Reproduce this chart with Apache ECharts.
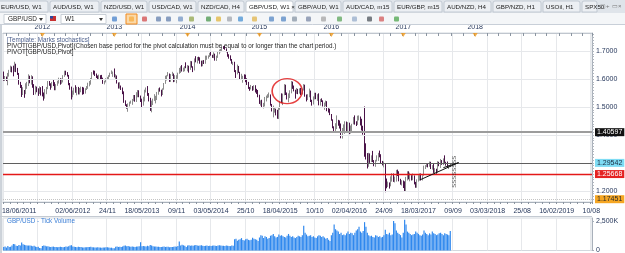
<!DOCTYPE html>
<html><head><meta charset="utf-8">
<script src="https://cdn.jsdelivr.net/npm/echarts@6/dist/echarts.min.js"></script>
<style>html,body{margin:0;padding:0;background:#fff;overflow:hidden}#c{width:625px;height:253px}</style>
</head><body><div id="c"></div>
<script>
// ---------- DATA ----------
const startDate = [2011, 5, 18];          // first weekly bar 18/06/2011
const totalWeeks = 426;                    // axis extends to Aug 2019
const bottomTickLabels = ['18/06/2011','','02/06/2012','24/11','18/05/2013','09/11','03/05/2014','25/10','18/04/2015','10/10','02/04/2016','24/09','18/03/2017','09/09','03/03/2018','25/08','16/02/2019','10/08'];
const yearLabels = ['2012','2013','2014','2015','2016','2017','2018'];
const priceTicks = [1.2, 1.3, 1.4, 1.5, 1.6, 1.7];
const volumeTicks = [0, 2500000];
const tabLabels = ['EUR/USD, W1','AUD/USD, W1','NZD/USD, W1','USD/CAD, W1','NZD/CAD, H4','GBP/USD, W1','GBP/AUD, W1','AUD/CAD, m15','EUR/GBP, m15','AUD/NZD, H4','GBP/NZD, H1','USOil, H1','SPX50'];
const overlayTexts = ['[Template: Marks stochastics]','PIVOT[GBP/USD,Pivot](Chosen base period for the pivot calculation must be equal to or longer than the chart period.)','PIVOT[GBP/USD,Pivot]'];

// weekly candles [open, high, low, close]
const ohlc2011 = [[1.621,1.627,1.594,1.601],[1.601,1.611,1.593,1.605],[1.605,1.609,1.593,1.598],[1.598,1.622,1.578,1.619],[1.619,1.633,1.609,1.631],[1.631,1.648,1.625,1.643],[1.643,1.645,1.624,1.635],[1.635,1.648,1.610,1.631],[1.631,1.662,1.626,1.648],[1.648,1.655,1.625,1.633],[1.633,1.640,1.615,1.621],[1.621,1.622,1.580,1.586],[1.586,1.590,1.568,1.577],[1.577,1.579,1.536,1.549],[1.549,1.571,1.543,1.558],[1.558,1.561,1.533,1.550],[1.550,1.585,1.546,1.579],[1.579,1.590,1.565,1.589],[1.589,1.617,1.575,1.607],[1.607,1.612,1.585,1.601],[1.601,1.614,1.580,1.608],[1.608,1.610,1.569,1.576],[1.576,1.582,1.543,1.548],[1.548,1.576,1.545,1.568],[1.568,1.573,1.553,1.565],[1.565,1.567,1.540,1.551],[1.551,1.574,1.547,1.568],[1.568,1.571,1.541,1.553]];
const ohlc2012 = [[1.553,1.575,1.538,1.543],[1.543,1.552,1.523,1.534],[1.534,1.564,1.530,1.560],[1.560,1.572,1.546,1.570],[1.570,1.593,1.564,1.586],[1.586,1.593,1.576,1.580],[1.580,1.585,1.562,1.578],[1.578,1.590,1.569,1.581],[1.581,1.600,1.575,1.580],[1.580,1.589,1.560,1.567],[1.567,1.582,1.560,1.578],[1.578,1.594,1.576,1.590],[1.590,1.605,1.584,1.600],[1.600,1.603,1.580,1.589],[1.589,1.602,1.583,1.592],[1.592,1.614,1.588,1.612],[1.612,1.630,1.608,1.628],[1.628,1.630,1.614,1.619],[1.619,1.625,1.609,1.612],[1.612,1.615,1.578,1.581],[1.581,1.586,1.562,1.570],[1.570,1.573,1.527,1.537],[1.537,1.559,1.535,1.556],[1.556,1.569,1.544,1.567],[1.567,1.578,1.551,1.561],[1.561,1.572,1.542,1.571],[1.571,1.572,1.545,1.550],[1.550,1.568,1.545,1.565],[1.565,1.573,1.553,1.570],[1.570,1.572,1.544,1.569],[1.569,1.570,1.546,1.560],[1.560,1.567,1.548,1.563],[1.563,1.575,1.561,1.572],[1.572,1.587,1.565,1.585],[1.585,1.593,1.574,1.590],[1.590,1.604,1.580,1.602],[1.602,1.625,1.598,1.623],[1.623,1.631,1.616,1.622],[1.622,1.630,1.611,1.615],[1.615,1.620,1.604,1.611],[1.611,1.613,1.597,1.605],[1.605,1.616,1.598,1.613],[1.613,1.614,1.598,1.604],[1.604,1.615,1.599,1.599],[1.599,1.605,1.583,1.589],[1.589,1.594,1.581,1.589],[1.589,1.603,1.588,1.602],[1.602,1.608,1.597,1.606],[1.606,1.614,1.600,1.610],[1.610,1.623,1.608,1.622],[1.622,1.631,1.618,1.625],[1.625,1.627,1.608,1.626],[1.626,1.638,1.606,1.608]];
const ohlc2013 = [[1.608,1.617,1.599,1.611],[1.611,1.613,1.584,1.587],[1.587,1.588,1.566,1.568],[1.568,1.589,1.566,1.576],[1.576,1.577,1.561,1.563],[1.563,1.570,1.546,1.549],[1.549,1.556,1.515,1.520],[1.520,1.524,1.504,1.505],[1.505,1.510,1.494,1.498],[1.498,1.513,1.483,1.512],[1.512,1.519,1.502,1.518],[1.518,1.523,1.512,1.520],[1.520,1.529,1.508,1.529],[1.529,1.543,1.521,1.535],[1.535,1.543,1.519,1.529],[1.529,1.553,1.518,1.553],[1.553,1.561,1.535,1.555],[1.555,1.560,1.535,1.535],[1.535,1.541,1.518,1.520],[1.520,1.530,1.500,1.512],[1.512,1.537,1.505,1.520],[1.520,1.562,1.520,1.555],[1.555,1.570,1.552,1.568],[1.568,1.575,1.540,1.549],[1.549,1.550,1.520,1.521],[1.521,1.533,1.486,1.487],[1.487,1.523,1.481,1.510],[1.510,1.530,1.507,1.526],[1.526,1.546,1.522,1.536],[1.536,1.540,1.513,1.536],[1.536,1.554,1.525,1.551],[1.551,1.567,1.544,1.563],[1.563,1.570,1.555,1.556],[1.556,1.562,1.538,1.549],[1.549,1.567,1.543,1.565],[1.565,1.586,1.562,1.585],[1.585,1.612,1.583,1.603],[1.603,1.614,1.595,1.612],[1.612,1.625,1.610,1.618],[1.618,1.620,1.590,1.596],[1.596,1.618,1.590,1.616],[1.616,1.626,1.611,1.619],[1.619,1.620,1.589,1.593],[1.593,1.614,1.590,1.602],[1.602,1.614,1.585,1.613],[1.613,1.623,1.601,1.622],[1.622,1.640,1.619,1.637],[1.637,1.646,1.622,1.640],[1.640,1.650,1.627,1.631],[1.631,1.641,1.626,1.632],[1.632,1.646,1.628,1.645],[1.645,1.660,1.639,1.644]];
const ohlc2014 = [[1.644,1.650,1.628,1.646],[1.646,1.648,1.623,1.636],[1.636,1.665,1.633,1.649],[1.649,1.664,1.641,1.643],[1.643,1.646,1.625,1.634],[1.634,1.674,1.631,1.674],[1.674,1.682,1.660,1.666],[1.666,1.679,1.656,1.675],[1.675,1.680,1.666,1.674],[1.674,1.678,1.655,1.663],[1.663,1.666,1.645,1.648],[1.648,1.667,1.646,1.664],[1.664,1.668,1.654,1.659],[1.659,1.684,1.655,1.675],[1.675,1.684,1.669,1.678],[1.678,1.685,1.673,1.681],[1.681,1.694,1.679,1.689],[1.689,1.700,1.684,1.686],[1.686,1.687,1.676,1.680],[1.680,1.696,1.675,1.683],[1.683,1.691,1.666,1.674],[1.674,1.684,1.665,1.680],[1.680,1.700,1.676,1.697],[1.697,1.706,1.689,1.701],[1.701,1.708,1.696,1.704],[1.704,1.718,1.701,1.715],[1.715,1.718,1.708,1.713],[1.713,1.719,1.705,1.708],[1.708,1.710,1.696,1.698],[1.698,1.700,1.680,1.682],[1.682,1.689,1.673,1.680],[1.680,1.685,1.666,1.668],[1.668,1.672,1.655,1.656],[1.656,1.662,1.650,1.660],[1.660,1.662,1.625,1.631],[1.631,1.632,1.604,1.624],[1.624,1.652,1.617,1.630],[1.630,1.647,1.622,1.623],[1.623,1.626,1.598,1.602],[1.602,1.619,1.600,1.609],[1.609,1.612,1.587,1.612],[1.612,1.617,1.597,1.609],[1.609,1.616,1.589,1.596],[1.596,1.603,1.579,1.583],[1.583,1.590,1.565,1.568],[1.568,1.572,1.558,1.567],[1.567,1.579,1.563,1.571],[1.571,1.575,1.558,1.564],[1.564,1.578,1.560,1.571],[1.571,1.578,1.552,1.562],[1.562,1.565,1.547,1.554],[1.554,1.561,1.535,1.540]];
const ohlc2015 = [[1.540,1.544,1.511,1.514],[1.514,1.524,1.505,1.519],[1.519,1.526,1.499,1.502],[1.502,1.515,1.495,1.505],[1.505,1.536,1.502,1.524],[1.524,1.541,1.520,1.538],[1.538,1.546,1.532,1.538],[1.538,1.552,1.534,1.543],[1.543,1.545,1.505,1.506],[1.506,1.511,1.484,1.485],[1.485,1.505,1.463,1.486],[1.486,1.500,1.480,1.489],[1.489,1.494,1.470,1.487],[1.487,1.490,1.458,1.465],[1.465,1.500,1.457,1.497],[1.497,1.521,1.490,1.518],[1.518,1.549,1.514,1.514],[1.514,1.548,1.507,1.546],[1.546,1.582,1.542,1.570],[1.570,1.580,1.543,1.548],[1.548,1.552,1.527,1.529],[1.529,1.549,1.517,1.534],[1.534,1.560,1.532,1.553],[1.553,1.593,1.549,1.588],[1.588,1.591,1.565,1.575],[1.575,1.577,1.556,1.560],[1.560,1.562,1.530,1.551],[1.551,1.568,1.547,1.554],[1.554,1.565,1.546,1.551],[1.551,1.567,1.548,1.560],[1.560,1.568,1.543,1.547],[1.547,1.566,1.545,1.564],[1.564,1.582,1.559,1.570],[1.570,1.580,1.537,1.543],[1.543,1.545,1.520,1.526],[1.526,1.546,1.525,1.544],[1.544,1.566,1.535,1.554],[1.554,1.559,1.518,1.521],[1.521,1.526,1.505,1.515],[1.515,1.538,1.509,1.532],[1.532,1.551,1.527,1.536],[1.536,1.551,1.528,1.531],[1.531,1.546,1.522,1.543],[1.543,1.549,1.506,1.507],[1.507,1.529,1.505,1.522],[1.522,1.531,1.518,1.519],[1.519,1.524,1.502,1.505],[1.505,1.516,1.490,1.508],[1.508,1.523,1.503,1.519],[1.519,1.521,1.485,1.490],[1.490,1.496,1.480,1.487],[1.487,1.494,1.471,1.474]];
const ohlc2016 = [[1.474,1.475,1.451,1.453],[1.453,1.456,1.424,1.425],[1.425,1.431,1.408,1.423],[1.423,1.442,1.412,1.425],[1.425,1.470,1.421,1.452],[1.452,1.454,1.433,1.450],[1.450,1.452,1.423,1.440],[1.440,1.441,1.388,1.390],[1.390,1.425,1.387,1.423],[1.423,1.438,1.414,1.437],[1.437,1.449,1.404,1.447],[1.447,1.448,1.408,1.413],[1.413,1.446,1.411,1.438],[1.438,1.444,1.403,1.413],[1.413,1.434,1.405,1.424],[1.424,1.440,1.413,1.440],[1.440,1.464,1.438,1.460],[1.460,1.470,1.437,1.444],[1.444,1.449,1.432,1.440],[1.440,1.469,1.436,1.462],[1.462,1.470,1.452,1.462],[1.462,1.466,1.434,1.453],[1.453,1.458,1.416,1.425],[1.425,1.433,1.401,1.423],[1.423,1.502,1.322,1.368],[1.368,1.370,1.312,1.329],[1.329,1.335,1.280,1.295],[1.295,1.336,1.286,1.318],[1.318,1.334,1.300,1.311],[1.311,1.327,1.303,1.322],[1.322,1.343,1.303,1.308],[1.308,1.310,1.288,1.294],[1.294,1.311,1.286,1.309],[1.309,1.327,1.305,1.321],[1.321,1.336,1.307,1.330],[1.330,1.344,1.320,1.326],[1.326,1.331,1.298,1.300],[1.300,1.307,1.291,1.297],[1.297,1.305,1.284,1.297],[1.297,1.299,1.195,1.243],[1.243,1.244,1.209,1.219],[1.219,1.233,1.214,1.223],[1.223,1.230,1.208,1.218],[1.218,1.252,1.216,1.249],[1.249,1.263,1.233,1.261],[1.261,1.262,1.232,1.242],[1.242,1.251,1.230,1.248],[1.248,1.275,1.233,1.275],[1.275,1.276,1.253,1.259],[1.259,1.270,1.234,1.235],[1.235,1.243,1.222,1.228],[1.228,1.238,1.219,1.234]];
const ohlc2017 = [[1.234,1.237,1.210,1.228],[1.228,1.234,1.199,1.217],[1.217,1.250,1.199,1.241],[1.241,1.270,1.237,1.257],[1.257,1.270,1.241,1.248],[1.248,1.265,1.234,1.248],[1.248,1.256,1.237,1.241],[1.241,1.262,1.238,1.248],[1.248,1.255,1.223,1.230],[1.230,1.232,1.211,1.218],[1.218,1.241,1.211,1.240],[1.240,1.256,1.233,1.253],[1.253,1.262,1.237,1.254],[1.254,1.262,1.237,1.238],[1.238,1.256,1.237,1.255],[1.255,1.290,1.254,1.282],[1.282,1.292,1.278,1.295],[1.295,1.297,1.285,1.295],[1.295,1.296,1.284,1.288],[1.288,1.305,1.286,1.302],[1.302,1.304,1.278,1.280],[1.280,1.292,1.276,1.288],[1.288,1.298,1.264,1.274],[1.274,1.281,1.259,1.278],[1.278,1.279,1.261,1.272],[1.272,1.306,1.265,1.302],[1.302,1.304,1.288,1.288],[1.288,1.314,1.282,1.309],[1.309,1.310,1.293,1.299],[1.299,1.316,1.292,1.313],[1.313,1.327,1.300,1.302],[1.302,1.304,1.290,1.301],[1.301,1.305,1.282,1.287],[1.287,1.292,1.278,1.288],[1.288,1.299,1.285,1.295]];

// weekly tick volume, thousands
const vol2011 = [300,340,250,380,300,320,420,560,520,400,380,460,420,680,520,480,450,430,420,430,400,350,400,330,300,310,220,190];
const vol2012 = [380,420,400,350,360,320,300,310,330,290,300,280,290,320,300,280,300,330,320,360,420,450,330,310,300,280,310,290,300,260,250,270,280,300,290,310,280,270,260,250,270,260,250,240,250,260,280,270,250,230,240,180,200];
const vol2013 = [320,330,300,310,300,330,400,420,360,380,340,320,330,320,300,330,340,360,700,350,380,360,340,400,360,470,420,360,340,330,320,320,300,290,310,330,300,320,310,280,300,300,310,330,320,380,760,420,480,440,400,300];
const vol2014 = [420,450,400,430,410,440,470,420,400,430,450,410,390,400,420,380,400,390,410,430,400,380,420,450,430,410,400,380,420,400,380,370,420,400,950,1000,820,900,960,1050,880,850,950,1000,900,870,920,1080,1000,950,900,800];
const vol2015 = [1100,1300,1250,1050,1200,1150,1000,1050,1250,1300,1400,1200,1100,1150,1350,1250,1300,1200,1150,1100,1250,1400,1250,1150,1200,1100,1050,1150,1250,1200,1150,1300,2100,1500,1350,1200,1250,1300,1150,1200,1100,1050,1200,1300,1250,1150,1200,1100,1000,1050,900,800];
const vol2016 = [1300,1500,2200,1800,1700,1600,1400,1500,1300,1350,1300,1450,1600,1400,1500,1450,1300,1500,1700,1800,2000,1600,1500,1650,2400,2000,1500,1300,1200,1250,1150,1100,1300,1250,1150,1200,1100,1150,1300,1750,1400,1350,1500,1300,1350,2500,2300,1700,1500,1400,1300,1100];
const vol2017 = [1500,2600,2200,1600,1500,1400,1300,1350,1400,1600,1500,1400,1300,1250,1350,1700,1500,1400,1300,1450,1350,1600,1450,1400,1300,1350,1450,1500,1400,1300,1450,1400,1350,1300,1650];

// horizontal levels
const pivotLevel = 1.40597, bidLevel = 1.29542, supportLevel = 1.25668, lowLevel = 1.17451;
// drawn annotations [week index, price]
const trendLine = [[301, 1.239], [329, 1.301]];
const trendLine2 = [[318, 1.283], [329, 1.301]];
const circledArea = [[205, 1.557]];
const periodMarker = [[326, 1.268]];

// ---------- BUILD ----------
const DAY = 864e5, WEEK = 7 * DAY;
const t0 = Date.UTC(startDate[0], startDate[1], startDate[2]);
const pad = n => (n < 10 ? '0' : '') + n;
const categories = Array.from({length: totalWeeks}, (_, i) => {
  const d = new Date(t0 + i * WEEK);
  return pad(d.getUTCDate()) + '/' + pad(d.getUTCMonth() + 1) + '/' + d.getUTCFullYear();
});
const weekOf = (y, m) => Math.round((Date.UTC(y, m, 1) - t0) / WEEK);
const yearIdx = yearLabels.map(y => weekOf(+y, 0));
const biMonthIdx = [];
for (let y = 2011; y <= 2019; y++) for (let m = 0; m < 12; m += 2) { const w = weekOf(y, m); if (w >= 0 && w < totalWeeks) biMonthIdx.push(w); }

const ohlc = [].concat(ohlc2011, ohlc2012, ohlc2013, ohlc2014, ohlc2015, ohlc2016, ohlc2017);
const candleData = ohlc.map(r => [r[0], r[3], r[2], r[1]]);
const volumes = [].concat(vol2011, vol2012, vol2013, vol2014, vol2015, vol2016, vol2017).map(v => v * 1000);

const FONT = 'Liberation Sans';
const LBL = '#27385c';

// UI chrome (tabs + toolbar)
const tabEdges = [-3,49,100,148,197,245,294,342,393,443,492,542,581,598];
const graphics = [];
graphics.push({type:'rect', shape:{x:0,y:0,width:625,height:13}, style:{fill:'#dfe4ea'}, z:1});
tabLabels.forEach((t, i) => {
  const x0 = tabEdges[i], x1 = tabEdges[i+1];
  const active = t === 'GBP/USD, W1';
  graphics.push({type:'rect', shape:{x:x0+1,y:1,width:x1-x0-2,height:11,r:[2,2,0,0]},
    style:{fill: active ? '#ffffff' : '#eceff3', stroke:'#b9c2cc', lineWidth:0.8}, z:2});
  graphics.push({type:'text', x:x0+4, y:6.8, style:{text: t + (active ? ' ×' : ''), font:'6.2px ' + FONT, fill:'#222', textVerticalAlign:'middle'}, z:3});
});
['▢','+','▭','×'].forEach((s, i) => graphics.push({type:'text', x:600 + i*6, y:6.5, style:{text:s, font:'6px ' + FONT, fill:'#777', textVerticalAlign:'middle'}, z:3}));
graphics.push({type:'rect', shape:{x:0,y:13,width:625,height:12}, style:{fill:'#f4f6f8'}, z:1});
graphics.push({type:'line', shape:{x1:0,y1:24.5,x2:625,y2:24.5}, style:{stroke:'#c8cfd8',lineWidth:1}, z:2});
// combo boxes
[[4,46,'GBP/USD'],[61,106,'W1']].forEach(c => {
  graphics.push({type:'rect', shape:{x:c[0],y:14.5,width:c[1]-c[0],height:9}, style:{fill:'#fff', stroke:'#bcc4cc', lineWidth:0.8}, z:2});
  graphics.push({type:'text', x:c[0]+4, y:19.2, style:{text:c[2], font:'6.4px ' + FONT, fill:'#222', textVerticalAlign:'middle'}, z:3});
  graphics.push({type:'polygon', shape:{points:[[c[1]-7,18],[c[1]-3,18],[c[1]-5,21]]}, style:{fill:'#333'}, z:3});
});
graphics.push({type:'rect', shape:{x:50,y:16,width:6,height:5}, style:{fill:'#c83030'}, z:3});
graphics.push({type:'rect', shape:{x:50,y:16,width:3,height:2.5}, style:{fill:'#2a4aa0'}, z:3});
// toolbar icons
const iconSpec = [[111,'#3c7ac8'],[128,'#f6a93b'],[141,'#d04040'],[155,'#5878a8'],[165,'#5878a8'],[177,'#6a8fc0'],[188,'#8aa040'],[205,'#3c9040'],[215,'#e0b030'],[226,'#9aa0a8'],[237,'#3a8ad0'],[251,'#e0b040'],[268,'#4a80c0'],[280,'#4a80c0'],[291,'#8090a0'],[305,'#7080a0'],[320,'#a0a0a0'],[336,'#50a050'],[351,'#90a8c8'],[366,'#404850'],[378,'#d05050'],[393,'#40a040']];
iconSpec.forEach(ic => {
  if (ic[0] === 128) graphics.push({type:'rect', shape:{x:126,y:14,width:11,height:10}, style:{fill:'#fbd9a8', stroke:'#f08a20', lineWidth:1}, z:2});
  graphics.push({type:'rect', shape:{x:ic[0]+1,y:16.5,width:5,height:5,r:1}, style:{fill:ic[1], opacity:0.7}, z:3});
});
// overlay indicator texts
overlayTexts.forEach((t, i) => graphics.push({type:'text', x:7, y:40.5 + i*6, style:{text:t, font:'6.3px ' + FONT, fill: i === 0 ? '#4c5f8c' : '#1e1e1e', textVerticalAlign:'middle'}, z:20}));
graphics.push({type:'text', x:7, y:221.5, style:{text:'GBP/USD - Tick Volume', font:'6.3px ' + FONT, fill:'#3a7ed6', textVerticalAlign:'middle'}, z:20});
// panel frames
graphics.push({type:'line', shape:{x1:1,y1:25,x2:1,y2:253}, style:{stroke:'#9aa6b4',lineWidth:1}, z:5});
graphics.push({type:'line', shape:{x1:0,y1:216.5,x2:592,y2:216.5}, style:{stroke:'#c4cad2',lineWidth:1}, z:5});

const levelLine = (v, color, width, type, bg, fg) => ({
  yAxis: v, lineStyle:{color, width, type},
  label:{show:true, position:'end', distance:3, formatter: v.toFixed(5), backgroundColor:bg, color:fg, padding:[1,2,0,2], fontSize:7, fontFamily:FONT}
});

const option = {
  animation: false,
  backgroundColor: '#ffffff',
  graphic: graphics,
  grid: [
    {left:3, right:33, top:33, height:169, show:true, borderColor:'#c8ced6', borderWidth:0.8, backgroundColor:'transparent', outerBoundsMode:'none', containLabel:false},
    {left:3, right:33, top:218, height:32.5, show:true, borderColor:'#c8ced6', borderWidth:0.8, outerBoundsMode:'none', containLabel:false}
  ],
  xAxis: [
    {type:'category', gridIndex:0, data:categories, boundaryGap:true, position:'bottom',
     axisLine:{show:true, lineStyle:{color:'#a8b0ba'}},
     axisTick:{show:true, interval:4, length:2, lineStyle:{color:'#8a94a0'}},
     axisLabel:{interval:24, margin:6, fontSize:7, fontFamily:FONT, color:LBL, showMinLabel:true,
       formatter:(v, i) => { const s = bottomTickLabels[Math.round(i/25)] || ''; return i === 0 ? '{first|' + s + '}' : s; },
       rich:{first:{padding:[0,0,0,31], fontSize:7, fontFamily:FONT, color:LBL}}},
     splitLine:{show:true, interval:24, lineStyle:{color:'#e6e8eb', width:1}}},
    {type:'category', gridIndex:0, data:categories, boundaryGap:true, position:'top', offset:0,
     axisLine:{show:true, onZero:false, lineStyle:{color:'#c0c6ce'}},
     axisTick:{show:true, interval:(i) => biMonthIdx.includes(i), length:3, inside:true, lineStyle:{color:'#8a94a0'}},
     axisLabel:{show:true, inside:false, interval:(i) => yearIdx.includes(i), margin:2, fontSize:7, fontFamily:FONT, color:LBL, verticalAlign:'bottom',
       formatter:(v, i) => { const k = yearIdx.indexOf(i); return k >= 0 ? yearLabels[k] : ''; }},
     splitLine:{show:false}},
    {type:'category', gridIndex:1, data:categories, boundaryGap:true,
     axisLine:{show:false}, axisTick:{show:false}, axisLabel:{show:false},
     splitLine:{show:true, interval:24, lineStyle:{color:'#e6e8eb', width:1}}}
  ],
  yAxis: [
    {type:'value', gridIndex:0, position:'right', min:1.16, max:1.765, interval:0.01,
     axisLine:{show:true, lineStyle:{color:'#a8b0ba'}},
     axisTick:{show:true, length:2, lineStyle:{color:'#b0b6be'}},
     axisLabel:{margin:4, fontSize:7, fontFamily:FONT, color:LBL, showMinLabel:false, showMaxLabel:false,
       formatter: v => priceTicks.some(p => Math.abs(p - v) < 1e-6) ? v.toFixed(4) : ''},
     splitLine:{show:false}},
    {type:'value', gridIndex:1, position:'right', min:0, max:2750000, interval:2500000,
     axisLine:{show:true, lineStyle:{color:'#a8b0ba'}},
     axisTick:{show:true, length:2, lineStyle:{color:'#a8b0ba'}},
     axisLabel:{margin:4, fontSize:7, fontFamily:FONT, color:LBL, showMaxLabel:false,
       formatter: v => volumeTicks.includes(v) ? (v === 0 ? '0' : (v/1000).toLocaleString('en-US') + 'K') : ''},
     splitLine:{show:false}}
  ],
  series: [
    {type:'line', xAxisIndex:0, yAxisIndex:0, data:[], z:0, silent:true,
     markLine:{silent:true, symbol:'none', label:{show:false},
       lineStyle:{color:'#e6e8eb', width:1, type:'solid'},
       data: priceTicks.map(p => ({yAxis:p}))}},
    {type:'candlestick', name:'GBP/USD', xAxisIndex:0, yAxisIndex:0, data:candleData, barWidth:'80%', z:3,
     itemStyle:{color:'#a3a3a3', borderColor:'#8c8c8c', color0:'#5a1d58', borderColor0:'#4a1348', borderWidth:1}},
    {type:'line', xAxisIndex:0, yAxisIndex:0, data:[], z:2, silent:true,
     markLine:{silent:true, symbol:'none',
       data:[
         levelLine(pivotLevel, '#9c9c9c', 2, 'solid', '#111111', '#ffffff'),
         levelLine(bidLevel, '#5f5f5f', 1.2, 'solid', '#7fdcf4', '#1a2a40'),
         levelLine(supportLevel, '#e41818', 1.3, 'solid', '#e52222', '#ffffff'),
         levelLine(lowLevel, '#c4c4c4', 1, 'dotted', '#f5a623', '#2a2a2a')
       ]}},
    {type:'line', xAxisIndex:0, yAxisIndex:0, data:trendLine, symbol:'none', z:6, silent:true,
     lineStyle:{color:'#111', width:1}},
    {type:'line', xAxisIndex:0, yAxisIndex:0, data:trendLine2, symbol:'none', z:6, silent:true,
     lineStyle:{color:'#111', width:1}},
    {type:'scatter', xAxisIndex:0, yAxisIndex:0, data:circledArea, symbol:'circle', symbolSize:[30,25], z:7, silent:true,
     itemStyle:{color:'rgba(0,0,0,0)', borderColor:'#e01010', borderWidth:1.5}},
    {type:'scatter', xAxisIndex:0, yAxisIndex:0, data:periodMarker, symbolSize:0, z:7, silent:true,
     label:{show:true, position:'inside', rotate:90, formatter:'SSSSSSSS', fontSize:6, fontFamily:FONT, color:'#222'}},
    {type:'scatter', xAxisIndex:0, yAxisIndex:0, data:yearIdx.map(i => [i, 1.765]), symbol:'triangle', symbolRotate:180,
     symbolSize:[5,4], symbolOffset:[0,2], clip:false, z:8, silent:true, itemStyle:{color:'#f39a1a'}},
    {type:'bar', xAxisIndex:2, yAxisIndex:1, data:volumes, barCategoryGap:'15%', z:3,
     itemStyle:{color:'#2f88ee'}}
  ]
};
const chart = echarts.init(document.getElementById('c'));
chart.setOption(option);
</script>
</body></html>
